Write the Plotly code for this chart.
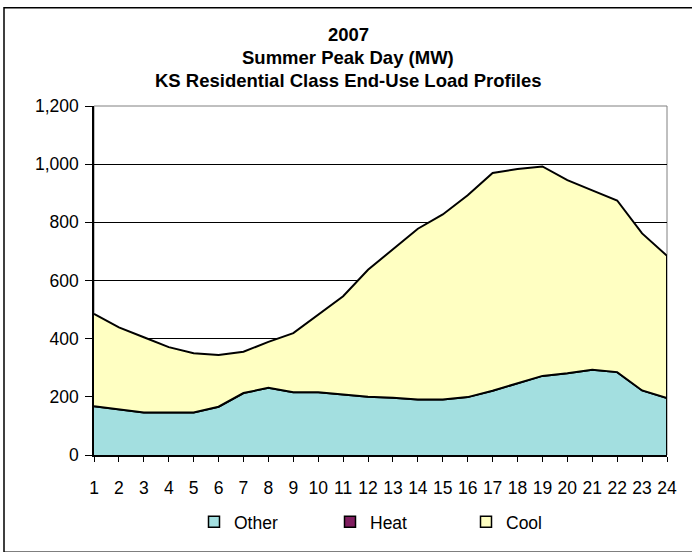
import plotly.graph_objects as go

# ---- data ----
hours = list(range(1, 25))
other = [168, 157, 146, 146, 146, 166, 213, 231, 216, 216, 208, 200,
         197, 191, 191, 199, 221, 247, 272, 281, 293, 285, 222, 196]
heat = [0] * 24
cool = [317, 282, 259, 225, 204, 178, 142, 158, 203, 268, 338, 437,
        512, 587, 636, 694, 749, 736, 720, 664, 617, 590, 540, 489]
y_ticks = [0, 200, 400, 600, 800, 1000, 1200]
title_lines = ["2007", "Summer Peak Day (MW)", "KS Residential Class End-Use Load Profiles"]

series_names = ["Other", "Heat", "Cool"]
series_colors = ["#A3DFE0", "#801E60", "#FFFFC2"]

# ---- layout geometry (pixels) ----
W, H = 692, 552
PL, PR, PT, PB = 94, 667, 106, 461

def px(x):
    return (x - PL) / (PR - PL)

def py(y):
    return (PB - y) / (PB - PT)

FONT = "Liberation Sans, Arial, sans-serif"

fig = go.Figure()

for name, vals, col in zip(series_names, [other, heat, cool], series_colors):
    fig.add_trace(go.Scatter(
        x=hours, y=vals, name=name, stackgroup="one", mode="lines",
        line=dict(color="black", width=2), fillcolor=col,
        showlegend=False, hoverinfo="x+y+name"))

# legend entries (square swatches)
for name, col in zip(series_names, series_colors):
    fig.add_trace(go.Scatter(
        x=[None], y=[None], name=name, mode="markers",
        marker=dict(symbol="square", size=11, color=col,
                    line=dict(color="black", width=1.5)),
        showlegend=True))

total_last = other[-1] + heat[-1] + cool[-1]

shapes = [
    # plot area border (grey)
    dict(type="rect", xref="paper", yref="paper", x0=0, x1=1, y0=0, y1=1,
         line=dict(color="#808080", width=1), layer="below"),
    # closing edge of the stacked areas at the last hour
    dict(type="line", xref="x", yref="y", x0=hours[-1], x1=hours[-1],
         y0=0, y1=total_last, line=dict(color="black", width=2)),
    # outer chart border
    dict(type="rect", xref="paper", yref="paper",
         x0=px(4), x1=px(700), y0=py(560), y1=py(6),
         line=dict(color="black", width=1.5)),
]

annotations = []
for i, t in enumerate(title_lines):
    annotations.append(dict(
        text="<b>%s</b>" % t, xref="paper", yref="paper",
        x=px(348), y=py(33.5 + 23.3 * i), xanchor="center", yanchor="middle",
        showarrow=False, font=dict(family=FONT, size=18.5, color="black")))

fig.update_layout(
    width=W, height=H, autosize=False,
    margin=dict(l=PL, r=W - PR, t=PT, b=H - PB, pad=0),
    paper_bgcolor="white", plot_bgcolor="white",
    font=dict(family=FONT, size=17, color="black"),
    shapes=shapes, annotations=annotations,
    showlegend=True,
    legend=dict(orientation="h", x=px(194), y=py(529), xanchor="left",
                yanchor="middle", entrywidth=91, entrywidthmode="pixels",
                traceorder="normal",
                font=dict(family=FONT, size=17.5, color="black"),
                bgcolor="rgba(0,0,0,0)", borderwidth=0,
                itemclick=False),
    xaxis=dict(range=[hours[0], hours[-1]], tickmode="array", tickvals=hours,
               ticktext=[str(h) for h in hours], ticks="outside", ticklen=5,
               tickcolor="black", tickwidth=1, showline=True, linecolor="black",
               linewidth=1.5, showgrid=False, zeroline=False,
               ticklabelstandoff=11,
               tickfont=dict(family=FONT, size=17.5, color="black")),
    yaxis=dict(range=[0, 1200], tickmode="array", tickvals=y_ticks,
               tickformat=",", ticks="outside", ticklen=7, tickcolor="black",
               tickwidth=1, showline=True, linecolor="black", linewidth=1.5,
               showgrid=True, gridcolor="black", gridwidth=1, zeroline=False,
               ticklabelstandoff=3,
               tickfont=dict(family=FONT, size=17.5, color="black")),
)

fig.write_html("out.html",
               config={"displayModeBar": False},
               post_script="document.body.style.margin='0px';"
                           "document.body.style.overflow='hidden';")
